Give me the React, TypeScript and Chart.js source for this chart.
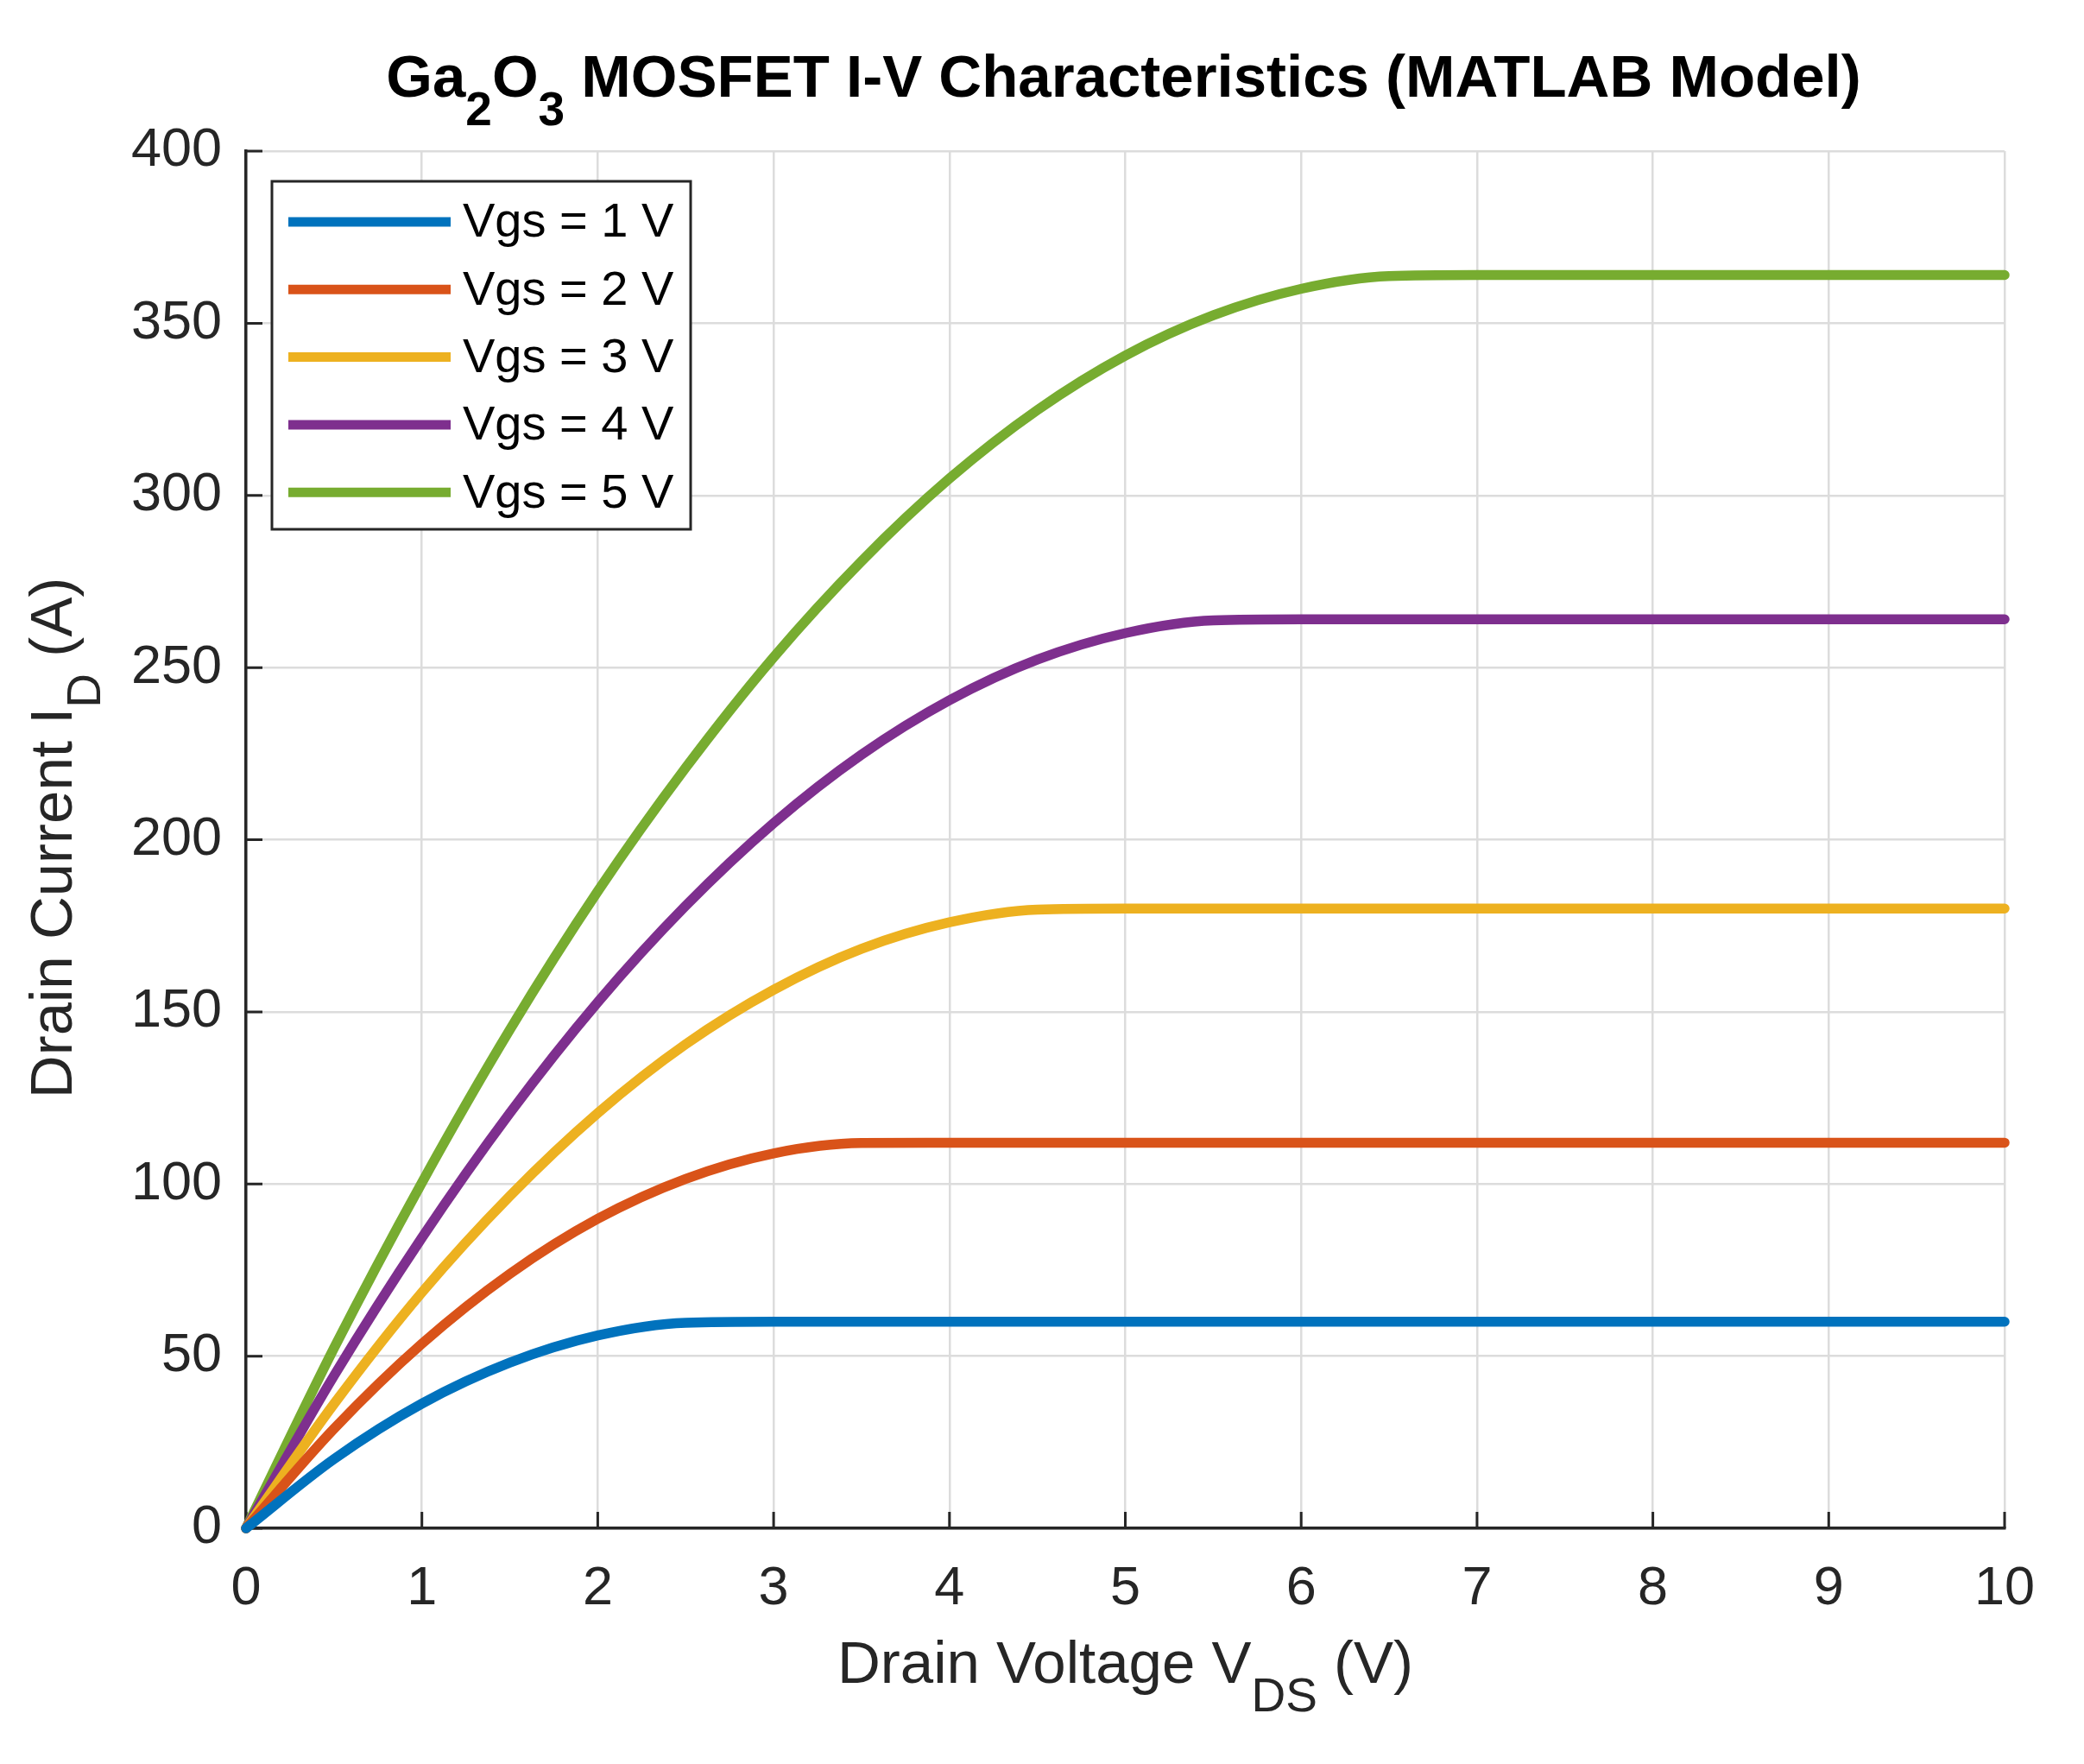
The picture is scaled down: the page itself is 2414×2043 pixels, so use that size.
import { useEffect, useRef } from 'react';
import { Chart, registerables } from 'chart.js';
import type { Plugin } from 'chart.js';

Chart.register(...registerables);

const W = 2414;
const H = 2043;
const FONT = "'Liberation Sans', Arial, Helvetica, sans-serif";
const INK = '#262626';

// drain voltage samples (V)
const VDS = [0, 0.5, 1, 1.5, 2, 2.5, 3, 3.5, 4, 4.5, 5, 5.5, 6, 6.5, 7, 7.5, 8, 8.5, 9, 9.5, 10];

// drain current (A)
const ID_VGS1 = [0, 20.1, 36.2, 48.1, 56.0, 59.7, 60, 60, 60, 60, 60, 60, 60, 60, 60, 60, 60, 60, 60, 60, 60];
const ID_VGS2 = [0, 28.9, 53.6, 73.9, 89.9, 101.5, 108.9, 111.9, 112, 112, 112, 112, 112, 112, 112, 112, 112, 112, 112, 112, 112];
const ID_VGS3 = [0, 36.1, 68.5, 96.5, 120.6, 140.6, 156.4, 168.3, 176.0, 179.7, 180, 180, 180, 180, 180, 180, 180, 180, 180, 180, 180];
const ID_VGS4 = [0, 44.3, 84.4, 120.6, 152.8, 180.8, 204.8, 224.7, 240.5, 252.3, 260.0, 263.7, 264, 264, 264, 264, 264, 264, 264, 264, 264];
const ID_VGS5 = [0, 52.3, 100.4, 144.8, 185.0, 220.9, 253.0, 280.9, 304.9, 324.8, 340.6, 352.3, 360.0, 363.7, 364, 364, 364, 364, 364, 364, 364];

const SERIES_LABELS = ['Vgs = 1 V', 'Vgs = 2 V', 'Vgs = 3 V', 'Vgs = 4 V', 'Vgs = 5 V'];
const SERIES_DATA = [ID_VGS1, ID_VGS2, ID_VGS3, ID_VGS4, ID_VGS5];
const SERIES_COLORS = ['#0072BD', '#D95319', '#EDB120', '#7E2F8E', '#77AC30'];

type Part = [string, boolean]; // [text, isSubscript]
const TITLE_PARTS: Part[] = [['Ga', false], ['2', true], ['O', false], ['3', true], [' MOSFET I-V Characteristics (MATLAB Model)', false]];
const XLABEL_PARTS: Part[] = [['Drain Voltage V', false], ['DS', true], [' (V)', false]];
const YLABEL_PARTS: Part[] = [['Drain Current I', false], ['D', true], [' (A)', false]];

function drawRich(ctx: CanvasRenderingContext2D, parts: Part[], cx: number, cy: number, size: number, weight: string, color: string, angle = 0) {
  ctx.save();
  ctx.translate(cx, cy);
  ctx.rotate(angle);
  ctx.fillStyle = color;
  ctx.textAlign = 'left';
  ctx.textBaseline = 'alphabetic';
  const fontOf = (sub: boolean) => `${weight} ${sub ? Math.round(size * 0.8) : size}px ${FONT}`;
  let total = 0;
  const widths = parts.map(([t, sub]) => {
    ctx.font = fontOf(sub);
    const w = ctx.measureText(t).width;
    total += w;
    return w;
  });
  let x = -total / 2;
  parts.forEach(([t, sub], i) => {
    ctx.font = fontOf(sub);
    ctx.fillText(t, x, sub ? size * 0.48 : 0);
    x += widths[i];
  });
  ctx.restore();
}

// MATLAB-style inward tick marks
const innerTicks: Plugin<'line'> = {
  id: 'innerTicks',
  beforeDatasetsDraw(chart) {
    const { ctx, chartArea, scales } = chart;
    ctx.save();
    ctx.strokeStyle = INK;
    ctx.lineWidth = 3;
    ctx.beginPath();
    scales.x.ticks.forEach(t => {
      const px = scales.x.getPixelForValue(t.value);
      ctx.moveTo(px, chartArea.bottom);
      ctx.lineTo(px, chartArea.bottom - 19);
    });
    scales.y.ticks.forEach(t => {
      const py = scales.y.getPixelForValue(t.value);
      ctx.moveTo(chartArea.left, py);
      ctx.lineTo(chartArea.left + 19, py);
    });
    ctx.stroke();
    ctx.restore();
  },
};

const labels: Plugin<'line'> = {
  id: 'richLabels',
  afterDraw(chart) {
    const { ctx, chartArea } = chart;
    const cx = (chartArea.left + chartArea.right) / 2;
    drawRich(ctx, TITLE_PARTS, cx - 2, 112, 69, 'bold', '#000');
    drawRich(ctx, XLABEL_PARTS, cx, 1949, 69, 'normal', INK);
    drawRich(ctx, YLABEL_PARTS, 83, (chartArea.top + chartArea.bottom) / 2 - 2, 69, 'normal', INK, -Math.PI / 2);
  },
};

const boxLegend: Plugin<'line'> = {
  id: 'boxLegend',
  afterDraw(chart) {
    const { ctx, chartArea } = chart;
    const lx = chartArea.left + 30;
    const ly = chartArea.top + 35;
    ctx.save();
    ctx.fillStyle = '#fff';
    ctx.fillRect(lx, ly, 485, 403);
    ctx.strokeStyle = INK;
    ctx.lineWidth = 3;
    ctx.strokeRect(lx, ly, 485, 403);
    ctx.font = `56px ${FONT}`;
    ctx.textBaseline = 'middle';
    ctx.textAlign = 'left';
    chart.data.datasets.forEach((ds, i) => {
      const y = ly + 47 + i * 78.3;
      ctx.strokeStyle = ds.borderColor as string;
      ctx.lineWidth = 11;
      ctx.beginPath();
      ctx.moveTo(lx + 19, y);
      ctx.lineTo(lx + 207, y);
      ctx.stroke();
      ctx.fillStyle = '#000';
      ctx.fillText(ds.label ?? '', lx + 221, y + 2);
    });
    ctx.restore();
  },
};

export default function App() {
  const canvasRef = useRef<HTMLCanvasElement>(null);

  useEffect(() => {
    if (!canvasRef.current) return;
    const chart = new Chart(canvasRef.current.getContext('2d')!, {
      type: 'line',
      data: {
        datasets: SERIES_LABELS.map((label, i) => ({
          label,
          data: VDS.map((x, j) => ({ x, y: SERIES_DATA[i][j] })),
          borderColor: SERIES_COLORS[i],
          backgroundColor: SERIES_COLORS[i],
          borderWidth: 11.5,
          pointRadius: 0,
          cubicInterpolationMode: 'monotone' as const,
          borderCapStyle: 'round' as const,
          borderJoinStyle: 'round' as const,
          clip: false as const,
        })),
      },
      options: {
        animation: false,
        responsive: false,
        devicePixelRatio: 1,
        layout: { padding: { top: 175, right: 92, left: 0, bottom: 0 } },
        plugins: { legend: { display: false }, title: { display: false }, tooltip: { enabled: false } },
        scales: {
          x: {
            type: 'linear', min: 0, max: 10,
            ticks: { stepSize: 1, color: INK, font: { family: FONT, size: 63 }, padding: 33, maxRotation: 0 },
            grid: { color: '#dcdcdc', lineWidth: 2.5, drawTicks: false },
            border: { display: true, color: INK, width: 3.5 },
            afterFit: (s: any) => { s.height = 273; },
          },
          y: {
            type: 'linear', min: 0, max: 400,
            ticks: { stepSize: 50, color: INK, font: { family: FONT, size: 63 }, padding: 28 },
            grid: { color: '#dcdcdc', lineWidth: 2.5, drawTicks: false },
            border: { display: true, color: INK, width: 3.5 },
            afterFit: (s: any) => { s.width = 285; },
          },
        },
      },
      plugins: [innerTicks, labels, boxLegend],
    });
    return () => { chart.destroy(); };
  }, []);

  return (
    <div style={{ position: 'fixed', left: 0, top: 0, width: W, height: H, background: '#fff' }}>
      <canvas ref={canvasRef} width={W} height={H} style={{ display: 'block', width: W, height: H }} />
    </div>
  );
}
